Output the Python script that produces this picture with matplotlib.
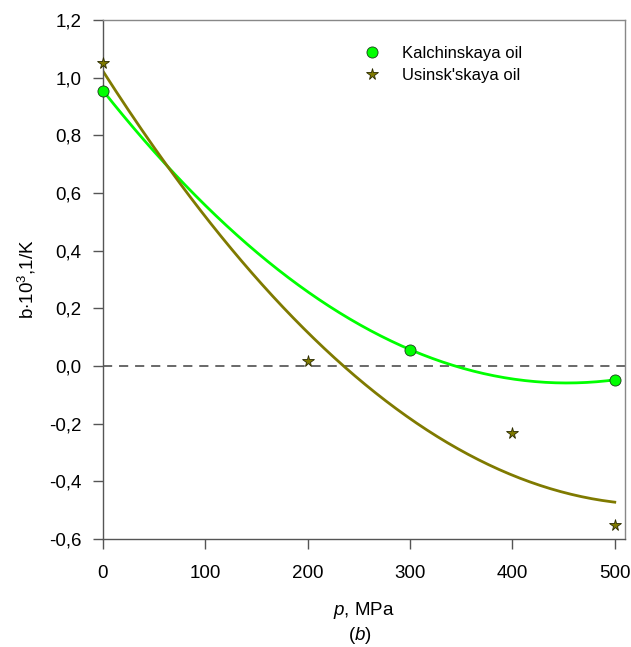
import numpy as np
import matplotlib
matplotlib.use("Agg")
import matplotlib.pyplot as plt

plt.rcParams["font.family"] = ["Liberation Sans", "DejaVu Sans"]
plt.rcParams["mathtext.fontset"] = "custom"
plt.rcParams["mathtext.rm"] = "Liberation Sans"
plt.rcParams["mathtext.it"] = "Liberation Sans:italic"

# Measured thermal expansion coefficient vs pressure
p_kalch = [0, 300, 500]
b_kalch = [0.955, 0.057, -0.048]

p_usinsk = [0, 200, 400, 500]
b_usinsk = [1.052, 0.018, -0.231, -0.551]

y_ticks = [-0.6, -0.4, -0.2, 0.0, 0.2, 0.4, 0.6, 0.8, 1.0, 1.2]
x_ticks = [0, 100, 200, 300, 400, 500]

GREEN = "#00ff00"
OLIVE = "#7f7a00"

fig = plt.figure(figsize=(6.31, 6.47), dpi=100)
ax = fig.add_axes([0.1632, 0.1669, 0.8273, 0.8022])

# second-order polynomial regressions
pp = np.linspace(0, 500, 200)
fit_k = np.polyfit(p_kalch, b_kalch, 2)
fit_u = np.polyfit(p_usinsk, b_usinsk, 2)

ax.axhline(0, color="#404040", lw=1.1, ls=(0, (6, 4.5)), zorder=1)
ax.plot(pp, np.polyval(fit_k, pp), color=GREEN, lw=2.0, zorder=2)
ax.plot(pp, np.polyval(fit_u, pp), color=OLIVE, lw=2.0, zorder=2)

ax.plot(p_kalch, b_kalch, "o", ms=8, mfc=GREEN, mec="#1a3a1a", mew=0.6,
        label="Kalchinskaya oil", zorder=3, clip_on=False)
ax.plot(p_usinsk, b_usinsk, "*", ms=8.5, mfc=OLIVE, mec="#2a2a00", mew=0.6,
        label="Usinsk'skaya oil", zorder=3, clip_on=False)

ax.set_xlim(0, 510)
ax.set_ylim(-0.6, 1.2)
ax.set_xticks(x_ticks)
ax.set_yticks(y_ticks)
ax.set_yticklabels([f"{v:.1f}".replace(".", ",") for v in y_ticks])

for side in ["left", "bottom"]:
    ax.spines[side].set_color("#555555")
for side in ["top", "right"]:
    ax.spines[side].set_color("#888888")
for s in ax.spines.values():
    s.set_linewidth(1.0)

ax.tick_params(direction="out", length=7.5, width=1, color="#555555",
               labelsize=13.5, pad=8)
ax.tick_params(axis="x", pad=11)

ax.set_ylabel(r"b$\cdot$10$^3$,1/K", fontsize=13.5, labelpad=8)
ax.set_xlabel("$p$, MPa", fontsize=13.5, labelpad=13)
fig.text(0.571, 1 - 635 / 647, "($b$)", fontsize=13.5, ha="center", va="center")

ax.legend(loc="upper left", bbox_to_anchor=(0.471, 0.963), frameon=False,
          fontsize=12, handletextpad=0.8, labelspacing=0.4, numpoints=1,
          borderaxespad=0)

fig.savefig("out.png", dpi=100)
